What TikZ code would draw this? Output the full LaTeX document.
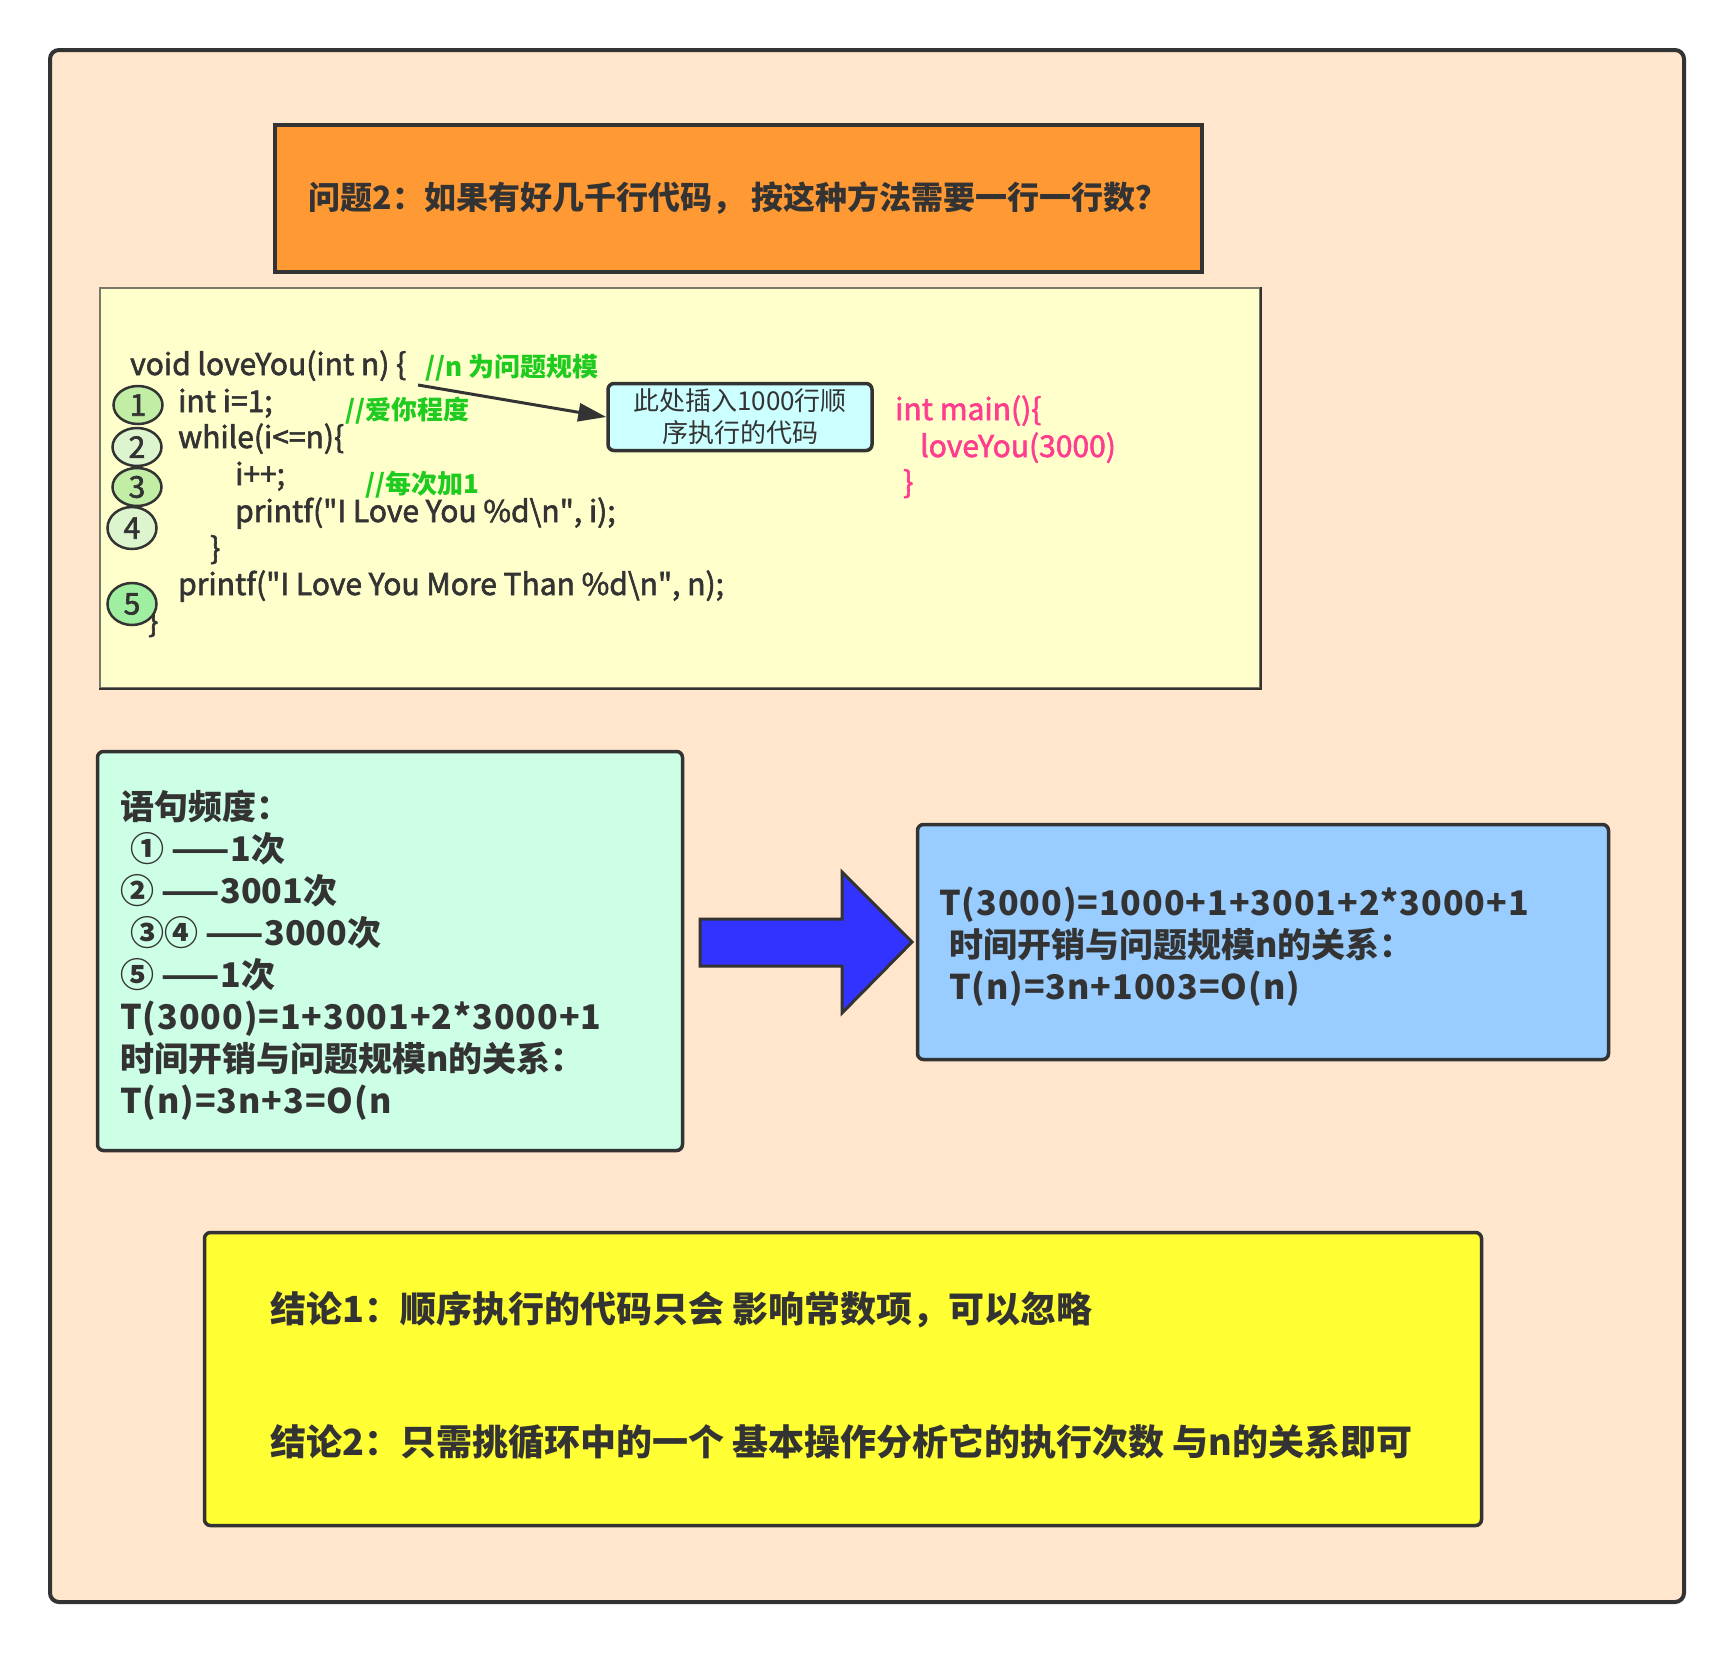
\documentclass[tikz,border=0pt]{standalone}
\usepackage{fontspec}
\setmainfont{Noto Sans CJK SC}
\newfontfamily\formfont[LetterSpace=2.8]{Noto Sans CJK SC}
\newfontfamily\codefont[FakeBold=2]{Noto Sans CJK SC}
\usepackage{tikz}
\usetikzlibrary{shapes.geometric, arrows.meta}

\definecolor{edgegray}{HTML}{333333}
\definecolor{peach}{HTML}{FFE6CC}
\definecolor{qorange}{HTML}{FF9933}
\definecolor{codebg}{HTML}{FFFFCC}
\definecolor{codeedge}{HTML}{77776A}
\definecolor{mint}{HTML}{CCFFE6}
\definecolor{skyblue}{HTML}{99CCFF}
\definecolor{lemon}{HTML}{FFFF33}
\definecolor{arrowblue}{HTML}{3333FF}
\definecolor{callcyan}{HTML}{CCFFFF}
\definecolor{cmtgreen}{HTML}{1ECB1E}
\definecolor{mainpink}{HTML}{FF3D8F}
\definecolor{stepA}{HTML}{C2EDA5}
\definecolor{stepB}{HTML}{DDF5CF}
\definecolor{stepC}{HTML}{A0EFA0}

\begin{document}
\begin{tikzpicture}[x=1pt, y=-1pt,
    box/.style={draw=edgegray, line width=3.5pt, rounded corners=6pt, inner sep=0pt},
    code/.style={anchor=base west, inner sep=0pt, text=edgegray, font=\fontsize{30}{36}\codefont},
    cmt/.style={anchor=base west, inner sep=0pt, text=cmtgreen, font=\fontsize{26}{31}\selectfont\bfseries},
    mainline/.style={code, text=mainpink},
    stepno/.style={ellipse, draw=edgegray, line width=2.5pt, minimum width=49pt, minimum height=38pt, inner sep=0pt, font=\fontsize{30}{32}\codefont, text=edgegray},
    note/.style={anchor=west, inner sep=0pt, align=left, text=edgegray, font=\fontsize{34}{42}\selectfont\bfseries},
    concl/.style={anchor=west, inner sep=0pt, text=edgegray, font=\fontsize{36}{42}\selectfont\bfseries}]

\fill[white] (0,0) rectangle (1734,1652);
\useasboundingbox (0,0) rectangle (1734,1652);

\node[draw=edgegray, fill=peach, line width=4pt, rounded corners=9pt, minimum width=1634pt, minimum height=1552pt] (frame) at (867,826) {};

\node[draw=edgegray, fill=qorange, line width=4pt, minimum width=927pt, minimum height=147pt, font=\fontsize{32}{38}\selectfont\bfseries, text=edgegray] (question) at (738,198) {问题2：如果有好几千行代码， 按这种方法需要一行一行数？};

% code listing
\node[draw=codeedge, fill=codebg, line width=2.5pt, minimum width=1160pt, minimum height=400pt] (codebox) at (680,488) {};
\draw[edgegray, line width=2pt] (codebox.north east) -- (codebox.south east) -- (codebox.south west);

\node[code] (l1) at (130,375) {void loveYou(int n) \{};
\node[cmt] (c1) at (425,376) {//n 为问题规模};
\node[code] (l2) at (178,412) {int i=1;};
\node[cmt] (c2) at (345,419) {//爱你程度};
\node[code] (l3) at (178,448) {while(i<=n)\{};
\node[code] (l4) at (235,485) {i++;};
\node[cmt] (c3) at (365,493) {//每次加1};
\node[code] (l5) at (235,522) {printf(\textquotedbl I Love You \%d\textbackslash n\textquotedbl, i);};
\node[code] (l6) at (210,559) {\}};
\node[code] (l7) at (178,595) {printf(\textquotedbl I Love You More Than \%d\textbackslash n\textquotedbl, n);};
\node[code] (l8) at (148,632) {\}};

\node[stepno, fill=stepA] (s1) at (138,405) {1};
\node[stepno, fill=stepB] (s2) at (137,447) {2};
\node[stepno, fill=stepA] (s3) at (137,487) {3};
\node[stepno, fill=stepB, minimum height=42pt] (s4) at (132,528) {4};
\node[stepno, fill=stepC, minimum height=42pt] (s5) at (132,604) {5};

\node[draw=edgegray, fill=callcyan, line width=3.5pt, rounded corners=6pt, minimum width=264pt, minimum height=67pt, inner sep=0pt, align=center, font=\fontsize{26}{32}\selectfont, text=edgegray] (insert) at (740,417) {此处插入1000行顺\\序执行的代码};
\coordinate (brace) at (418,385);
\draw[-{Triangle[length=28pt,width=18pt]}, line width=3pt, edgegray] (brace) -- (insert.west);

\node[mainline] (m1) at (895,420) {int main()\{};
\node[mainline] (m2) at (920,457) {loveYou(3000)};
\node[mainline] (m3) at (903,493) {\}};

% frequency box
\node[box, fill=mint, minimum width=585pt, minimum height=399pt] (freq) at (390,951) {};
\node[note] (freqtext) at (120,955) {语句频度：\\\hspace*{10pt}① ——1次\\② ——3001次\\\hspace*{10pt}③④ ——3000次\\⑤ ——1次\\{\formfont T(3000)=1+3001+2*3000+1}\\时间开销与问题规模n的关系：\\{\formfont T(n)=3n+3=O(n}};

\draw[draw=edgegray, fill=arrowblue, line width=3pt] (700,919) -- (842,919) -- (842,872) -- (912,942) -- (842,1013) -- (842,966) -- (700,966) -- cycle;

% result box
\node[box, fill=skyblue, minimum width=691pt, minimum height=235pt] (result) at (1263,942) {};
\node[note] (resulttext) at (939,947) {{\formfont T(3000)=1000+1+3001+2*3000+1}\\\hspace*{10pt}时间开销与问题规模n的关系：\\\hspace*{10pt}{\formfont T(n)=3n+1003=O(n)}};

% conclusions
\node[box, fill=lemon, minimum width=1277pt, minimum height=293pt] (conclbox) at (843,1379) {};
\node[concl] (concl1) at (270,1310) {结论1：顺序执行的代码只会 影响常数项，可以忽略};
\node[concl] (concl2) at (270,1442) {结论2：只需挑循环中的一个 基本操作分析它的执行次数 与n的关系即可};

\end{tikzpicture}
\end{document}
